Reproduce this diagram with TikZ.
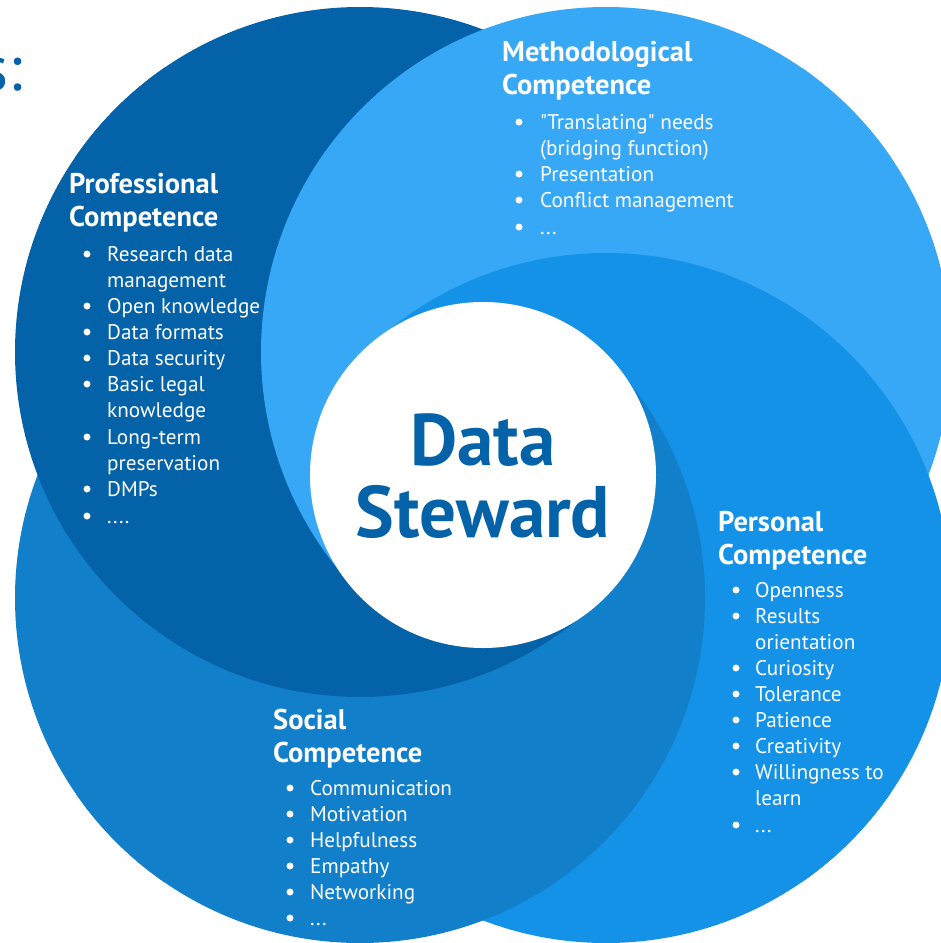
\documentclass[tikz,border=0pt]{standalone}
\usepackage{fontspec}
\setmainfont{PT Sans}
\definecolor{cpro}{HTML}{0462A8}
\definecolor{cmet}{HTML}{36A8F6}
\definecolor{cper}{HTML}{1392E7}
\definecolor{csoc}{HTML}{127FCB}
\newcommand\mythree{...}
\newcommand\myfour{....}
\begin{document}
\begin{tikzpicture}[x=1pt,y=-1pt,
  ttl/.style={anchor=base west, text=white, inner sep=0pt, font=\bfseries\fontsize{28.5}{28.5}\selectfont},
  itm/.style={anchor=base west, text=white, inner sep=0pt, font=\fontsize{21.2}{21.2}\selectfont},
  bul/.style={circle, fill=white, inner sep=0pt, minimum size=7pt},
  big/.style={anchor=base, text=cpro, inner sep=0pt, font=\bfseries\fontsize{73}{73}\selectfont}]
\useasboundingbox (0,0) rectangle (941,943);
\clip (0,0) rectangle (941,943);
\coordinate (O) at (483,475);
\coordinate (cP) at (360,352);
\coordinate (cM) at (606,352);
\coordinate (cE) at (606,598);
\coordinate (cS) at (360,598);
% top wedge: Personal on top
\begin{scope}
  \clip (O) -- +(218:2000) -- +(270:2000) -- +(322:2000) -- cycle;
  \begin{scope}[transparency group]
  \fill[csoc] (cS) circle (345);
  \fill[cpro] (cP) circle (345);
  \fill[cmet] (cM) circle (345);
  \fill[cper] (cE) circle (345);
  \end{scope}
\end{scope}
% left wedge: Methodological on top
\begin{scope}
  \clip (O) -- +(128:2000) -- +(180:2000) -- +(232:2000) -- cycle;
  \begin{scope}[transparency group]
  \fill[cper] (cE) circle (345);
  \fill[csoc] (cS) circle (345);
  \fill[cpro] (cP) circle (345);
  \fill[cmet] (cM) circle (345);
  \end{scope}
\end{scope}
% bottom wedge: Professional on top
\begin{scope}
  \clip (O) -- +(38:2000) -- +(90:2000) -- +(142:2000) -- cycle;
  \begin{scope}[transparency group]
  \fill[cmet] (cM) circle (345);
  \fill[cper] (cE) circle (345);
  \fill[csoc] (cS) circle (345);
  \fill[cpro] (cP) circle (345);
  \end{scope}
\end{scope}
% right wedge: Social on top
\begin{scope}
  \clip (O) -- +(-52:2000) -- +(0:2000) -- +(52:2000) -- cycle;
  \begin{scope}[transparency group]
  \fill[cpro] (cP) circle (345);
  \fill[cmet] (cM) circle (345);
  \fill[cper] (cE) circle (345);
  \fill[csoc] (cS) circle (345);
  \end{scope}
\end{scope}
% centre
\node[circle, fill=white, minimum size=346pt, inner sep=0pt] (ds) at (O) {};
\node[big] (dsa) at (483,465) {Data};
\node[big] (dsb) at (483,537) {Steward};
% cut heading
\node[anchor=base east, text=cpro, inner sep=0pt, font=\fontsize{64}{64}\selectfont] (hd) at (23,90) {s:};
% Professional
\node[ttl] (pt1) at (69,193) {Professional};
\node[ttl] (pt2) at (69,226) {Competence};
\foreach \y/\t/\b in {261/Research data/1, 287/management/0, 313/Open knowledge/1, 339/Data formats/1, 365/Data security/1, 391/Basic legal/1, 417/knowledge/0, 444/Long-term/1, 470/preservation/0, 496/DMPs/1, 523/\myfour/1}{
  \node[itm] (pi\y) at (107,\y) {\t};
  \ifnum\b=1 \node[bul] (pb\y) at (87,\y-7) {};\fi
}
% Methodological
\node[ttl] (mt1) at (502,61) {Methodological};
\node[ttl] (mt2) at (502,94) {Competence};
\foreach \y/\t/\b in {129/\textquotedbl Translating\textquotedbl{} needs/1, 155/(bridging function)/0, 181/Presentation/1, 207/Conflict management/1, 234/\mythree/1}{
  \node[itm] (mi\y) at (540,\y) {\t};
  \ifnum\b=1 \node[bul] (mb\y) at (519,\y-7) {};\fi
}
% Personal
\node[ttl] (et1) at (718,531) {Personal};
\node[ttl] (et2) at (718,564) {Competence};
\foreach \y/\t/\b in {597/Openness/1, 623/Results/1, 649/orientation/0, 675/Curiosity/1, 701/Tolerance/1, 727/Patience/1, 753/Creativity/1, 779/Willingness to/1, 805/learn/0, 832/\mythree/1}{
  \node[itm] (ei\y) at (755,\y) {\t};
  \ifnum\b=1 \node[bul] (eb\y) at (736,\y-7) {};\fi
}
% Social
\node[ttl] (st1) at (273,729) {Social};
\node[ttl] (st2) at (273,762) {Competence};
\foreach \y/\t/\b in {795/Communication/1, 821/Motivation/1, 847/Helpfulness/1, 873/Empathy/1, 899/Networking/1, 925/\mythree/1}{
  \node[itm] (si\y) at (310,\y) {\t};
  \ifnum\b=1 \node[bul] (sb\y) at (290,\y-7) {};\fi
}
\end{tikzpicture}
\end{document}
